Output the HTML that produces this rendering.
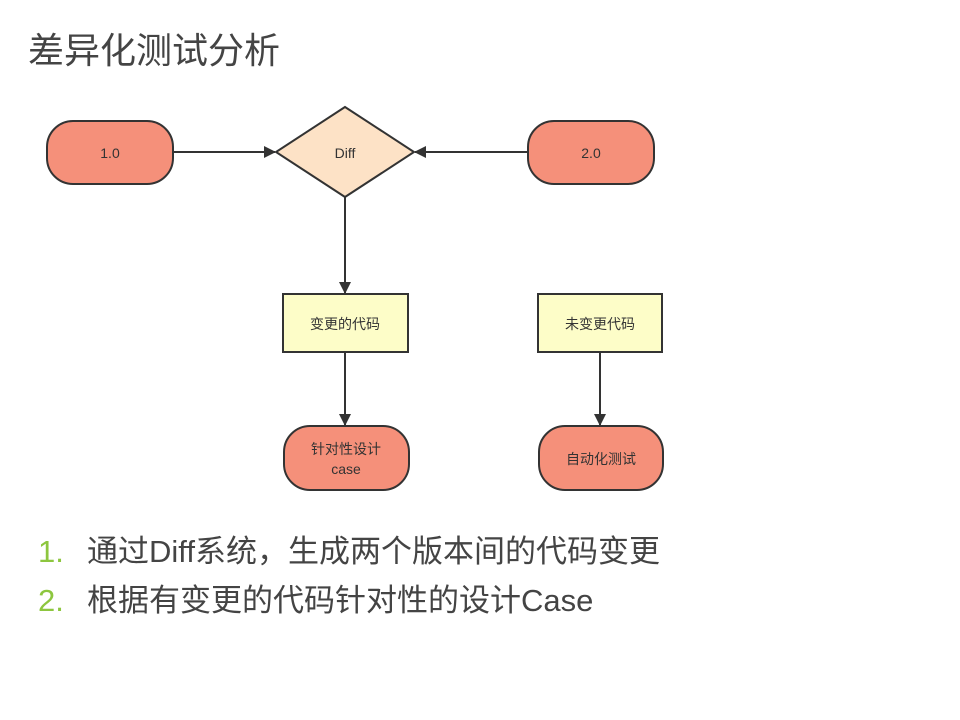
<!DOCTYPE html>
<html><head><meta charset="utf-8"><style>
body{margin:0;background:#fff;width:960px;height:720px;overflow:hidden;position:relative;font-family:"Liberation Sans","Noto Sans CJK SC",sans-serif;}
.t{position:absolute;left:28px;top:22px;font-size:36px;color:#444;font-family:"Liberation Sans","WenQuanYi Zen Hei",sans-serif;white-space:nowrap;}
.l{position:absolute;left:38px;font-size:31px;color:#444;white-space:nowrap;}
.l b{font-weight:normal;color:#8dc63f;display:inline-block;width:49px;}
</style></head><body>
<div class="t">差异化测试分析</div>
<svg width="960" height="720" style="position:absolute;left:0;top:0" font-family="Liberation Sans, Noto Sans CJK SC, sans-serif" font-size="14" fill="#333">
<defs><marker id="a" markerWidth="10" markerHeight="10" refX="9" refY="5" orient="auto" markerUnits="userSpaceOnUse"><path d="M0,0L10,5L0,10z" fill="#333"/></marker>
<marker id="b" markerWidth="12" markerHeight="12" refX="11" refY="6" orient="auto" markerUnits="userSpaceOnUse"><path d="M0,0L12,6L0,12z" fill="#333"/></marker></defs>
<g stroke="#333" stroke-width="2">
<line x1="173" y1="152" x2="275" y2="152" marker-end="url(#b)"/>
<line x1="528" y1="152" x2="415" y2="152" marker-end="url(#b)"/>
<line x1="345" y1="197" x2="345" y2="293" marker-end="url(#b)"/>
<line x1="345" y1="352" x2="345" y2="425" marker-end="url(#b)"/>
<line x1="600" y1="352" x2="600" y2="425" marker-end="url(#b)"/>
<rect x="47" y="121" width="126" height="63" rx="26" fill="#f5907a"/>
<rect x="528" y="121" width="126" height="63" rx="26" fill="#f5907a"/>
<polygon points="345,107 414,152 345,197 276,152" fill="#fde2c6"/>
<rect x="283" y="294" width="125" height="58" fill="#fdfdc8"/>
<rect x="538" y="294" width="124" height="58" fill="#fdfdc8"/>
<rect x="284" y="426" width="125" height="64" rx="26" fill="#f5907a"/>
<rect x="539" y="426" width="124" height="64" rx="26" fill="#f5907a"/>
</g>
<g text-anchor="middle">
<text x="110" y="158">1.0</text>
<text x="591" y="158">2.0</text>
<text x="345" y="158">Diff</text>
<text x="345" y="329">变更的代码</text>
<text x="600" y="329">未变更代码</text>
<text x="346" y="454">针对性设计</text>
<text x="346" y="474">case</text>
<text x="601" y="464">自动化测试</text>
</g>
</svg>
<div class="l" style="top:526px"><b>1.</b>通过Diff系统，生成两个版本间的代码变更</div>
<div class="l" style="top:575px"><b>2.</b>根据有变更的代码针对性的设计Case</div>
</body></html>
